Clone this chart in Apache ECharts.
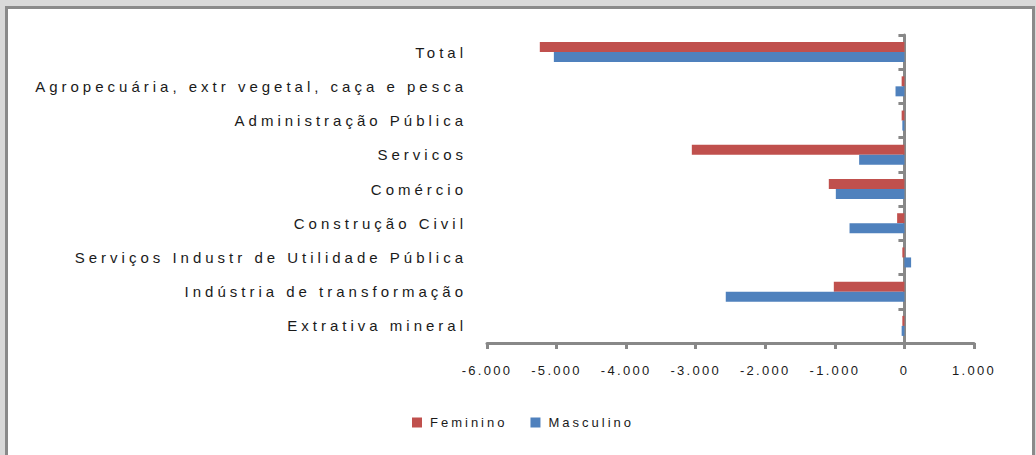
<!DOCTYPE html>
<html><head><meta charset="utf-8">
<script src="https://cdn.jsdelivr.net/npm/echarts@6/dist/echarts.min.js"></script>
<style>
html,body{margin:0;padding:0;background:#fff;}
#wrap{position:absolute;left:0;top:0;width:1036px;height:455px;background:#d9d9d9;}
#frame{position:absolute;left:5px;top:6px;width:1024px;height:460px;border:3px solid #8a8a8a;border-bottom:none;background:#fff;}
#chart{position:absolute;left:0;top:0;width:1036px;height:455px;}
#chart svg text{letter-spacing:4px;}
</style></head>
<body>
<div id="wrap"><div id="frame"></div><div id="chart"></div></div>
<script>
const categories = [
  "Total",
  "Agropecuária, extr vegetal, caça e pesca",
  "Administração Pública",
  "Servicos",
  "Comércio",
  "Construção Civil",
  "Serviços Industr de Utilidade Pública",
  "Indústria de transformação",
  "Extrativa mineral"
];
const feminino  = [-5241, -40, -40, -3056, -1087, -105, -30, -1015, -30];
const masculino = [-5039, -128, -30, -651, -986, -789, 96, -2568, -40];
const xTicks = { min: -6000, max: 1000, interval: 1000 };
const seriesNames = ['Feminino', 'Masculino'];

function fmt(v){
  const s = Math.abs(v).toString().replace(/\B(?=(\d{3})+(?!\d))/g, '.');
  return (v < 0 ? '-' : '') + s;
}

const chart = echarts.init(document.getElementById('chart'), null, {renderer:'svg'});
chart.setOption({
  animation:false,
  backgroundColor:'transparent',
  textStyle:{fontFamily:'Liberation Sans, Arial, sans-serif'},
  grid:{left:487, right:62, top:35, bottom:112, containLabel:false},
  legend:{
    data:seriesNames,
    bottom:21, left:407,
    itemWidth:10, itemHeight:10, itemGap:47,
    icon:'rect',
    textStyle:{fontSize:13, color:'#1a1a1a', fontFamily:'Liberation Sans, Arial, sans-serif', padding:[0,0,0,3]}
  },
  xAxis:{
    type:'value', min:xTicks.min, max:xTicks.max, interval:xTicks.interval,
    axisLine:{show:true, onZero:false, lineStyle:{color:'#888', width:3}},
    axisTick:{show:true, length:6, lineStyle:{color:'#888', width:3}},
    splitLine:{show:false},
    axisLabel:{fontSize:13, color:'#1a1a1a', margin:21, formatter:fmt}
  },
  yAxis:[{
    type:'category', data:categories, inverse:true,
    axisLine:{show:false, onZero:false},
    axisTick:{show:false},
    axisLabel:{fontSize:15, color:'#1a1a1a', margin:20}
  },{
    type:'category', data:categories, inverse:true, position:'left',
    axisLine:{show:true, onZero:true, lineStyle:{color:'#888', width:3}},
    axisTick:{show:true, length:6, lineStyle:{color:'#888', width:3}},
    axisLabel:{show:false}
  }],
  series:[
    {name:seriesNames[0], type:'bar', data:feminino, barWidth:10, barGap:'0%',
      itemStyle:{color:'#C0504D'}},
    {name:seriesNames[1], type:'bar', data:masculino, barWidth:10, barGap:'0%',
      itemStyle:{color:'#4F81BD'}}
  ]
});
document.querySelectorAll('#chart svg text').forEach(function(t){
  const s = t.textContent.trim();
  if (/^-?[\d.]+$/.test(s)) t.style.letterSpacing = '2.3px';
  else if (seriesNames.indexOf(s) >= 0) t.style.letterSpacing = '3px';
});
</script>
</body></html>
